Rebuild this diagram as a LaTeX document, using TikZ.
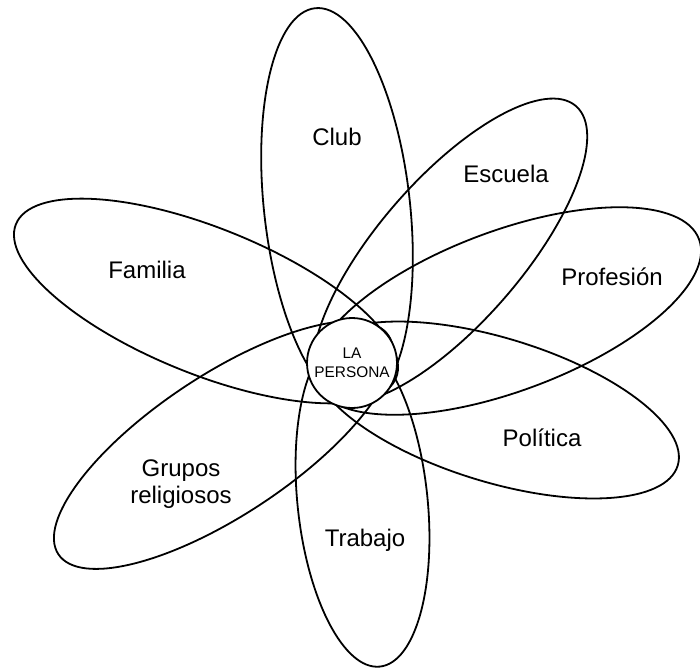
\documentclass[tikz,border=0pt]{standalone}
\usepackage{fontspec}
\setmainfont{Liberation Sans}
\begin{document}
\begin{tikzpicture}[x=0.5pt,y=-0.5pt,
  petal/.style={draw=black, line width=0.9pt},
  lbl/.style={font=\fontsize{12}{13.5}\selectfont, align=center, inner sep=0pt},
  core/.style={circle, draw=black, fill=white, line width=0.9pt, minimum size=45pt,
               inner sep=0pt, align=center, font=\fontsize{7.7}{9.5}\selectfont}]
\useasboundingbox (0,0) rectangle (700,669);
% petals
\draw[petal, rotate around={96.3:(337,207)}] (337,207) ellipse [x radius=200, y radius=73];   % Club
\draw[petal, rotate around={96:(362.5,501.5)}] (362.5,501.5) ellipse [x radius=166, y radius=65]; % Trabajo
\draw[petal, rotate around={-22:(206,301)}] (206,301) ellipse [x radius=205, y radius=73];    % Familia
\draw[petal, rotate around={20.5:(507,311)}] (507,311) ellipse [x radius=205, y radius=80];   % Profesion
\draw[petal, rotate around={49:(450,251)}] (450,251) ellipse [x radius=192, y radius=72];     % Escuela
\draw[petal, rotate around={-17:(496,410)}] (496,410) ellipse [x radius=190, y radius=72];    % Politica
\draw[petal, rotate around={33.5:(223.5,445)}] (223.5,445) ellipse [x radius=198, y radius=70]; % Grupos
% centre
\node[core] (persona) at (352,363) {LA\\PERSONA};
% labels
\node[lbl] (club) at (337,137) {Club};
\node[lbl] (escuela) at (506,174) {Escuela};
\node[lbl] (familia) at (147,270) {Familia};
\node[lbl] (profesion) at (612,277) {Profesión};
\node[lbl] (politica) at (542,438) {Política};
\node[lbl] (trabajo) at (365,540) {Trabajo};
\node[lbl] (grupos) at (181,484) {Grupos\\religiosos};
\end{tikzpicture}
\end{document}
